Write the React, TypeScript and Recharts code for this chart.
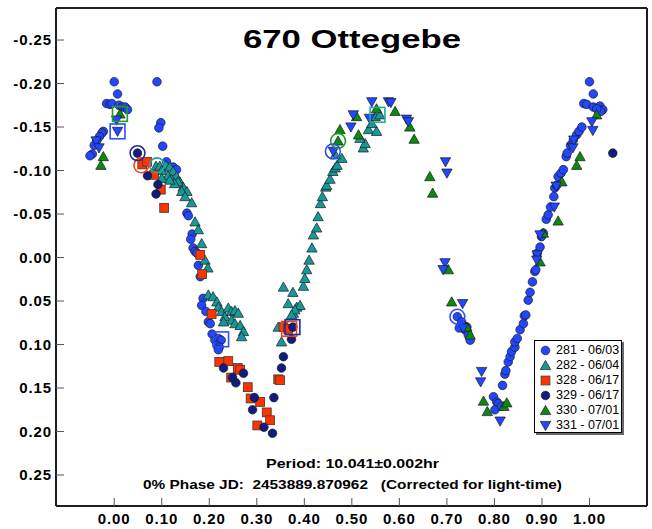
import React from 'react';
import { ScatterChart, Scatter, XAxis, YAxis, Legend, Customized } from 'recharts';

type Pair = [number, number];
const toPoints = (rows: Pair[]) => rows.map(([x, y]) => ({ x, y }));

// phase vs. differential magnitude, one array per observing session
const s281: Pair[] = [
  [0.000, -0.202], [0.090, -0.202], [0.007, -0.188], [-0.016, -0.177], [-0.009, -0.176], [-0.005, -0.177],
  [0.010, -0.175], [0.017, -0.173], [0.023, -0.173], [0.028, -0.170], [0.098, -0.155], [0.094, -0.149],
  [0.102, -0.128], [-0.023, -0.145], [-0.026, -0.143], [-0.031, -0.139], [-0.037, -0.134], [-0.042, -0.129],
  [-0.046, -0.119], [-0.051, -0.117], [0.110, -0.110], [0.124, -0.104], [0.131, -0.101],
  [0.153, -0.051], [0.156, -0.048], [0.164, -0.027], [0.161, -0.021], [0.166, -0.011], [0.170, -0.007],
  [0.174, -0.005], [0.177, 0.009], [0.181, 0.022], [0.187, 0.047], [0.184, 0.055], [0.193, 0.062],
  [0.198, 0.074], [0.202, 0.076], [0.206, 0.088], [0.212, 0.095], [0.219, 0.093], [0.225, 0.095],
  [0.216, 0.101], [0.221, 0.103], [0.219, 0.106],
  [0.722, 0.068], [0.731, 0.074], [0.734, 0.078], [0.738, 0.083], [0.745, 0.089], [0.749, 0.095],
  [0.726, 0.081], [0.742, 0.080],
  [0.798, 0.160], [0.805, 0.166], [0.808, 0.168], [0.801, 0.175], [0.815, 0.171], [0.817, 0.147],
  [0.822, 0.134], [0.824, 0.130], [0.829, 0.120], [0.833, 0.114], [0.836, 0.108], [0.843, 0.103],
  [0.843, 0.097], [0.848, 0.093], [0.854, 0.083], [0.861, 0.076], [0.863, 0.067], [0.866, 0.066],
  [0.871, 0.049], [0.875, 0.040], [0.880, 0.028], [0.885, 0.016], [0.887, 0.014], [0.890, -0.005],
  [0.896, -0.012], [0.899, -0.024], [0.903, -0.028], [0.909, -0.044], [0.913, -0.049], [0.918, -0.058],
  [0.925, -0.070], [0.927, -0.080], [0.931, -0.083], [0.934, -0.093], [0.940, -0.097], [0.945, -0.101],
  [0.951, -0.116], [0.953, -0.120], [0.960, -0.129], [0.966, -0.135], [0.973, -0.141], [0.978, -0.145],
  [0.984, -0.150], [0.988, -0.177], [0.994, -0.176], [1.008, -0.173], [1.022, -0.174], [1.028, -0.170],
  [1.024, -0.168], [1.015, -0.171], [1.000, -0.202], [1.008, -0.188],
];

const s282: Pair[] = [
  [0.088, -0.105], [0.096, -0.105], [0.109, -0.106], [0.117, -0.104], [0.124, -0.099], [0.131, -0.093],
  [0.138, -0.087], [0.145, -0.081], [0.153, -0.076], [0.163, -0.063], [0.134, -0.087], [0.142, -0.076],
  [0.149, -0.070], [0.170, -0.041], [0.177, -0.032], [0.184, -0.016], [0.191, 0.003], [0.197, 0.012],
  [0.100, -0.100], [0.113, -0.094], [0.120, -0.090], [0.127, -0.085], [0.100, -0.091], [0.117, -0.089],
  [0.198, 0.043], [0.208, 0.045], [0.216, 0.051], [0.219, 0.057], [0.226, 0.062], [0.233, 0.068],
  [0.240, 0.058], [0.247, 0.062], [0.254, 0.061], [0.261, 0.064], [0.247, 0.072], [0.230, 0.074],
  [0.254, 0.076], [0.265, 0.078], [0.272, 0.085], [0.268, 0.091],
  [0.345, 0.080], [0.352, 0.097], [0.356, 0.034], [0.376, 0.040], [0.366, 0.053], [0.384, 0.057],
  [0.391, 0.055], [0.377, 0.064], [0.380, 0.060], [0.373, 0.066], [0.398, 0.033], [0.401, 0.024],
  [0.405, 0.014], [0.410, 0.003], [0.416, -0.011], [0.419, -0.026], [0.426, -0.034], [0.429, -0.047],
  [0.434, -0.062], [0.438, -0.070], [0.445, -0.081], [0.447, -0.083], [0.454, -0.090], [0.460, -0.099],
  [0.465, -0.103], [0.469, -0.106], [0.479, -0.114], [0.465, -0.118], [0.524, -0.126], [0.528, -0.131],
  [0.517, -0.137], [0.535, -0.147], [0.552, -0.145], [0.542, -0.154], [0.549, -0.162], [0.559, -0.164],
];

const s328: Pair[] = [
  [0.059, -0.107], [0.069, -0.110], [0.084, -0.095], [0.098, -0.078], [0.105, -0.057], [0.181, -0.003],
  [0.185, 0.019], [0.205, 0.065], [0.221, 0.120], [0.240, 0.119], [0.260, 0.127], [0.265, 0.129],
  [0.246, 0.138], [0.281, 0.149], [0.287, 0.162], [0.307, 0.166], [0.321, 0.178], [0.328, 0.187],
  [0.301, 0.193], [0.345, 0.140], [0.349, 0.141], [0.356, 0.080], [0.366, 0.082],
];

const s329: Pair[] = [
  [0.049, -0.120], [0.070, -0.094], [0.092, -0.084], [0.088, -0.073], [0.230, 0.127], [0.249, 0.138],
  [0.256, 0.144], [0.272, 0.133], [0.295, 0.161], [0.291, 0.175], [0.315, 0.195], [0.333, 0.202],
  [0.336, 0.161], [0.352, 0.127], [0.356, 0.114], [0.373, 0.094], [0.376, 0.080], [1.049, -0.120],
];

const s330: Pair[] = [
  [-0.023, -0.116], [-0.028, -0.106], [0.012, -0.165], [0.475, -0.147], [0.471, -0.134], [0.510, -0.162],
  [0.514, -0.141], [0.552, -0.171], [0.591, -0.168], [0.622, -0.150], [0.631, -0.136], [0.664, -0.093],
  [0.670, -0.074], [0.703, 0.014], [0.710, 0.051], [0.742, 0.080], [0.749, 0.089], [0.777, 0.165],
  [0.785, 0.177], [0.820, 0.171], [0.826, 0.167], [0.896, 0.005], [0.903, -0.028], [0.934, -0.042],
  [0.942, -0.087], [0.973, -0.106], [0.980, -0.116], [1.015, -0.164],
];

const s331: Pair[] = [
  [0.005, -0.158], [0.007, -0.145], [-0.038, -0.134], [-0.032, -0.126], [0.461, -0.122], [0.498, -0.150],
  [0.503, -0.164], [0.537, -0.160], [0.542, -0.179], [0.577, -0.179], [0.582, -0.178], [0.615, -0.159],
  [0.619, -0.156], [0.697, -0.110], [0.700, -0.097], [0.696, 0.006], [0.692, 0.014], [0.733, 0.053],
  [0.734, 0.081], [0.773, 0.131], [0.771, 0.143], [0.812, 0.188], [0.890, -0.003], [0.889, 0.003],
  [0.896, -0.026], [0.926, -0.058], [0.930, -0.082], [0.965, -0.126], [0.967, -0.135], [1.005, -0.156],
  [1.007, -0.146],
];

const sessionIds = ['281', '282', '328', '329', '330', '331'];
const sessionLabels = ['281 - 06/03', '282 - 06/04', '328 - 06/17', '329 - 06/17', '330 - 07/01', '331 - 07/01'];
const sessionData = [s281, s282, s328, s329, s330, s331];

// first and last observation of each session
const sessionStarts = [
  { session: '281', x: 0.722, y: 0.068 },
  { session: '282', x: 0.090, y: -0.106 },
  { session: '328', x: 0.057, y: -0.106 },
  { session: '329', x: 0.049, y: -0.120 },
  { session: '330', x: 0.471, y: -0.134 },
  { session: '331', x: 0.460, y: -0.122 },
];
const sessionEnds = [
  { session: '281', x: 0.225, y: 0.094 },
  { session: '282', x: 0.554, y: -0.164 },
  { session: '328', x: 0.368, y: 0.082 },
  { session: '329', x: 0.375, y: 0.080 },
  { session: '330', x: 0.012, y: -0.165 },
  { session: '331', x: 0.007, y: -0.145 },
];

const phaseTicks = [0, 0.1, 0.2, 0.3, 0.4, 0.5, 0.6, 0.7, 0.8, 0.9, 1.0];
const magTicks = [-0.25, -0.2, -0.15, -0.1, -0.05, 0, 0.05, 0.1, 0.15, 0.2, 0.25];
const phaseDomain: [number, number] = [-0.1225, 1.121];
const magDomain: [number, number] = [-0.2868, 0.2856];

const titleText = '670 Ottegebe';
const periodText = 'Period: 10.041\u00b10.002hr';
const epochText = '0% Phase JD:  2453889.870962   (Corrected for light-time)';

const FONT = '"Liberation Sans", Arial, Helvetica, sans-serif';

type Kind = 'circle' | 'up' | 'square' | 'down';
const STYLE: Record<string, { kind: Kind; fill: string; ring: string }> = {
  '281': { kind: 'circle', fill: '#2247ff', ring: '#2c4fff' },
  '282': { kind: 'up', fill: '#149a9a', ring: '#22a6a6' },
  '328': { kind: 'square', fill: '#ff3300', ring: '#ff3c18' },
  '329': { kind: 'circle', fill: '#101d80', ring: '#1e2c90' },
  '330': { kind: 'up', fill: '#0c8a10', ring: '#1f9f22' },
  '331': { kind: 'down', fill: '#2247ff', ring: '#2c4fff' },
};

function Marker({ kind, cx, cy, fill }: { kind: Kind; cx: number; cy: number; fill: string }) {
  const stroke = '#1a1a1a';
  const sw = 0.7;
  if (kind === 'circle') {
    return <circle cx={cx} cy={cy} r={4.3} fill={fill} stroke={stroke} strokeWidth={sw} />;
  }
  if (kind === 'square') {
    return <rect x={cx - 4.4} y={cy - 4.4} width={8.8} height={8.8} fill={fill} stroke="#5a3a30" strokeWidth={0.9} />;
  }
  const w = 5.2;
  const h = 4.6;
  if (kind === 'up') {
    return (
      <path
        d={`M${cx},${cy - h - 0.5}L${cx + w},${cy + h - 0.5}L${cx - w},${cy + h - 0.5}Z`}
        fill={fill}
        stroke={stroke}
        strokeWidth={sw}
      />
    );
  }
  return (
    <path
      d={`M${cx},${cy + h + 0.5}L${cx + w},${cy - h + 0.5}L${cx - w},${cy - h + 0.5}Z`}
      fill={fill}
      stroke={stroke}
      strokeWidth={sw}
    />
  );
}

const shapeFor = (id: string) => (p: any) =>
  p.cx == null || p.cy == null ? <g /> : <Marker kind={STYLE[id].kind} cx={p.cx} cy={p.cy} fill={STYLE[id].fill} />;

const ringCircle = (p: any) =>
  p.cx == null ? <g /> : (
    <circle cx={p.cx} cy={p.cy} r={7.4} fill="none" stroke={STYLE[p.payload.session].ring} strokeWidth={1.6} />
  );

const ringSquare = (p: any) =>
  p.cx == null ? <g /> : (
    <rect x={p.cx - 7.4} y={p.cy - 7.4} width={14.8} height={14.8} fill="none" stroke={STYLE[p.payload.session].ring} strokeWidth={1.6} />
  );

const fmt = (v: number) => v.toFixed(2);

function LegendBox() {
  return (
    <div
      style={{
        width: 88,
        height: 93,
        boxSizing: 'border-box',
        border: '1px solid #000',
        background: '#fff',
        boxShadow: '2px 2px 0 #6a6a6a',
        fontFamily: FONT,
        fontSize: 12.5,
        color: '#000',
        paddingTop: 1.8,
      }}
    >
      {sessionIds.map((id, i) => (
        <div key={id} style={{ display: 'flex', alignItems: 'center', height: 15, lineHeight: '15px', whiteSpace: 'nowrap' }}>
          <svg width={21} height={15} style={{ display: 'block', flex: '0 0 auto' }}>
            <Marker kind={STYLE[id].kind} cx={10.5} cy={7.5} fill={STYLE[id].fill} />
          </svg>
          <span>{sessionLabels[i]}</span>
        </div>
      ))}
    </div>
  );
}

function Captions() {
  return (
    <g fontFamily={FONT} fill="#000" fontWeight="bold">
      <text x={352} y={48} textAnchor="middle" fontSize={26} textLength={218} lengthAdjust="spacingAndGlyphs">
        {titleText}
      </text>
      <text x={352.5} y={468} textAnchor="middle" fontSize={13.5} textLength={173} lengthAdjust="spacingAndGlyphs">
        {periodText}
      </text>
      <text
        x={352.5}
        y={488.5}
        textAnchor="middle"
        fontSize={13.5}
        textLength={419}
        lengthAdjust="spacingAndGlyphs"
        style={{ whiteSpace: 'pre' }}
      >
        {epochText}
      </text>
    </g>
  );
}

const frame = { stroke: '#1e1e1e', strokeWidth: 2 };
const tickLine = { stroke: '#555', strokeWidth: 1 };
const tickText = { fill: '#000', fontSize: 15, fontWeight: 'bold', fontFamily: FONT };

export default function App() {
  return (
    <div style={{ position: 'absolute', left: 0, top: 0, width: 652, height: 529, background: '#fff' }}>
      <style>{`.recharts-cartesian-axis-tick-value { letter-spacing: 0.9px; }`}</style>
      <ScatterChart width={652} height={529} margin={{ top: 0, right: 0, bottom: 0, left: 0 }}>
        <XAxis
          xAxisId="b"
          type="number"
          dataKey="x"
          orientation="bottom"
          domain={phaseDomain}
          allowDataOverflow
          ticks={phaseTicks}
          interval={0}
          tickFormatter={fmt}
          height={23}
          tickSize={-8}
          tickMargin={15}
          axisLine={frame}
          tickLine={tickLine}
          tick={tickText}
        />
        <XAxis
          xAxisId="t"
          type="number"
          dataKey="x"
          orientation="top"
          domain={phaseDomain}
          allowDataOverflow
          ticks={phaseTicks}
          interval={0}
          height={8}
          tickSize={-8}
          axisLine={frame}
          tickLine={tickLine}
          tick={false}
        />
        <YAxis
          yAxisId="l"
          type="number"
          dataKey="y"
          orientation="left"
          domain={magDomain}
          reversed
          allowDataOverflow
          ticks={magTicks}
          interval={0}
          tickFormatter={fmt}
          width={56}
          tickSize={-8}
          tickMargin={12}
          axisLine={frame}
          tickLine={tickLine}
          tick={tickText}
        />
        <YAxis
          yAxisId="r"
          type="number"
          dataKey="y"
          orientation="right"
          domain={magDomain}
          reversed
          allowDataOverflow
          ticks={magTicks}
          interval={0}
          width={5}
          tickSize={-8}
          axisLine={frame}
          tickLine={tickLine}
          tick={false}
        />
        {sessionIds.map((id, i) => (
          <Scatter
            key={id}
            name={sessionLabels[i]}
            data={toPoints(sessionData[i])}
            xAxisId="b"
            yAxisId="l"
            shape={shapeFor(id)}
            isAnimationActive={false}
          />
        ))}
        <Scatter data={sessionStarts} xAxisId="t" yAxisId="r" shape={ringCircle} isAnimationActive={false} legendType="none" />
        <Scatter data={sessionEnds} xAxisId="t" yAxisId="r" shape={ringSquare} isAnimationActive={false} legendType="none" />
        <Legend
          layout="vertical"
          align="center"
          verticalAlign="middle"
          content={() => <LegendBox />}
          wrapperStyle={{ left: 534, top: 340, width: 88, height: 93 }}
        />
        <Customized component={Captions} />
      </ScatterChart>
    </div>
  );
}
